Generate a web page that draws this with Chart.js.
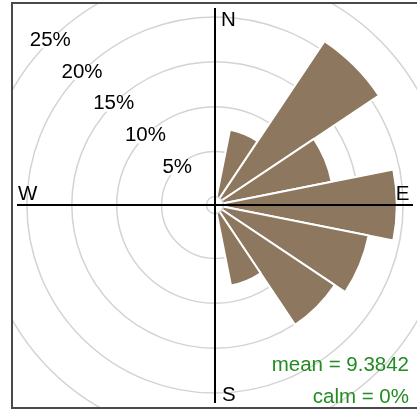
<!DOCTYPE html>
<html>
<head>
<meta charset="utf-8">
<script src="https://cdn.jsdelivr.net/npm/chart.js@4.4.1/dist/chart.umd.min.js"></script>
<style>
  html, body { margin: 0; padding: 0; background: #fff; overflow: hidden; }
  body { width: 417px; height: 410px; position: relative; }
  #frame {
    position: absolute; left: 11px; top: 2px; width: 430px; height: 407px;
    box-sizing: border-box; border: 2px solid #4a4a4a; overflow: hidden;
  }
  #rose { position: absolute; left: -31px; top: -32px; }
</style>
</head>
<body>
<div id="frame"><canvas id="rose" width="466" height="466"></canvas></div>
<script>
// 16 direction sectors, clockwise from north
const directions = ['N', 'NNE', 'NE', 'ENE', 'E', 'ESE', 'SE', 'SSE',
                    'S', 'SSW', 'SW', 'WSW', 'W', 'WNW', 'NW', 'NNW'];
// frequency of counts by direction (%)
const frequency = [0, 7.6, 21.0, 12.3, 19.3, 16.5, 15.1, 8.2,
                   0, 0, 0, 0, 0, 0, 0, 0];
const ringTicks = [5, 10, 15, 20, 25];
const ringLabels = ['5%', '10%', '15%', '20%', '25%'];
const meanSpeed = '9.3842';
const calmPct = 0;

const FONT = '20.5px "Liberation Sans", Arial, Helvetica, sans-serif';

// centre circle, N-S / W-E axes, ring labels and the stats text
const roseDecor = {
  id: 'roseDecor',
  afterDatasetsDraw(chart) {
    const r = chart.scales.r;
    const ctx = chart.ctx;
    const cx = r.xCenter;
    const cy = r.yCenter;
    ctx.save();

    // offset circle in the middle
    const r0 = r.getDistanceFromCenterForValue(0);
    ctx.beginPath();
    ctx.arc(cx, cy, r0, 0, Math.PI * 2);
    ctx.fillStyle = '#fff';
    ctx.fill();
    ctx.lineWidth = 1.5;
    ctx.strokeStyle = '#d3d3d3';
    ctx.stroke();

    // axes cross
    const L = 198;
    ctx.beginPath();
    ctx.moveTo(cx, cy - L + 1);
    ctx.lineTo(cx, cy + L);
    ctx.moveTo(cx - L, cy);
    ctx.lineTo(cx + L, cy);
    ctx.lineWidth = 2;
    ctx.strokeStyle = '#000';
    ctx.stroke();

    ctx.font = FONT;

    // ring labels along the NW diagonal
    ctx.textAlign = 'center';
    ctx.textBaseline = 'middle';
    ringTicks.forEach((v, i) => {
      const d = r.getDistanceFromCenterForValue(v);
      const x = cx - d * Math.SQRT1_2;
      const y = cy - d * Math.SQRT1_2;
      const w = ctx.measureText(ringLabels[i]).width;
      ctx.fillStyle = '#fff';
      ctx.fillRect(x - w / 2 - 1, y - 8, w + 2, 16);
      ctx.fillStyle = '#000';
      ctx.fillText(ringLabels[i], x, y);
    });

    // compass points
    ctx.textBaseline = 'alphabetic';
    ctx.fillStyle = '#000';
    ctx.textAlign = 'left';
    ctx.fillText('N', cx + 6, cy - 179);
    ctx.fillText('S', cx + 7, cy + 196);
    ctx.fillText('W', cx - 197, cy - 5.5);
    ctx.textAlign = 'right';
    ctx.fillText('E', cx + 194.5, cy - 5);

    // stats
    ctx.fillStyle = 'forestgreen';
    ctx.fillText('mean = ' + meanSpeed, cx + 194, cy + 165.5);
    ctx.fillText('calm = ' + calmPct + '%', cx + 194, cy + 198);

    ctx.restore();
  }
};

new Chart(document.getElementById('rose'), {
  type: 'polarArea',
  data: {
    labels: directions,
    datasets: [{
      data: frequency,
      backgroundColor: '#8d775e',
      borderColor: '#ffffff',
      borderWidth: 2
    }]
  },
  options: {
    responsive: false,
    animation: false,
    events: [],
    layout: { padding: 0 },
    plugins: {
      legend: { display: false },
      tooltip: { enabled: false }
    },
    scales: {
      r: {
        min: -0.95,
        max: 25,
        startAngle: -11.25,
        ticks: { display: false, stepSize: 5 },
        pointLabels: { display: false },
        angleLines: { display: false },
        grid: {
          circular: true,
          lineWidth: 1.5,
          color: (c) => (c.tick && c.tick.value > 0 ? '#d3d3d3' : 'rgba(0,0,0,0)')
        }
      }
    }
  },
  plugins: [roseDecor]
});
</script>
</body>
</html>
